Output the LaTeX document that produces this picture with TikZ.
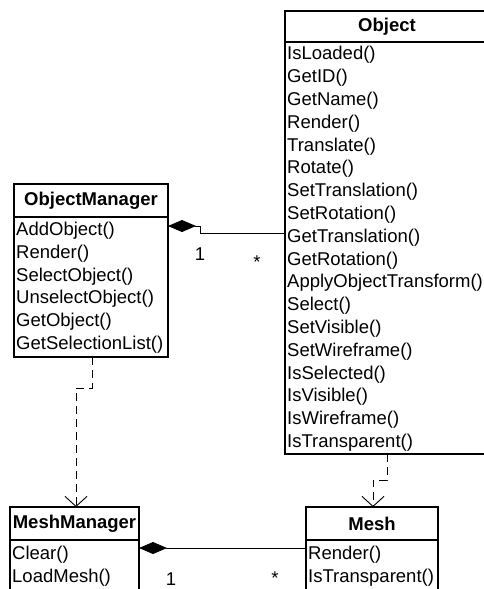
\documentclass[tikz,border=0pt]{standalone}
\usepackage{fontspec}
\setmainfont{Liberation Sans}
\usetikzlibrary{arrows.meta}
\begin{document}
\begin{tikzpicture}[x=1pt,y=-1pt,
  classbox/.style={draw, line width=1.3pt, anchor=north west, inner sep=0pt, outer sep=0pt},
  sep/.style={line width=1.3pt},
  title/.style={font=\fontsize{18.5}{21.4}\selectfont\bfseries, inner sep=0pt},
  meth/.style={font=\fontsize{18.5}{21.4}\selectfont, anchor=base west, inner sep=0pt},
  mult/.style={font=\fontsize{18.5}{21.4}\selectfont, inner sep=0pt},
  comp/.style={line width=0.9pt, {Diamond[length=28pt,width=12pt]}-},
  dep/.style={line width=0.9pt, dash pattern=on 8pt off 5pt,
              -{Straight Barb[length=10pt,width=22pt,line width=0.9pt]}}]
\useasboundingbox (0,0) rectangle (484,589);
\clip (0,0) rectangle (484,589);

% class boxes
\node[classbox, minimum width=203pt, minimum height=443pt] (obj) at (285,11) {};
\node[classbox, minimum width=154pt, minimum height=173pt] (om) at (14,184) {};
\node[classbox, minimum width=129pt, minimum height=120pt] (mm) at (10,507) {};
\node[classbox, minimum width=132pt, minimum height=120pt] (mesh) at (306,507) {};

% header separators
\draw[sep] (obj.west |- 0,42) -- (obj.east |- 0,42);
\draw[sep] (om.west |- 0,217) -- (om.east |- 0,217);
\draw[sep] (mm.west |- 0,540) -- (mm.east |- 0,540);
\draw[sep] (mesh.west |- 0,540) -- (mesh.east |- 0,540);

% titles
\node[title] (objT) at (387,26.5) {Object};
\node[title] (omT) at (91,200.5) {ObjectManager};
\node[title] (mmT) at (74.5,523.5) {MeshManager};
\node[title] (meshT) at (372,523.5) {Mesh};

% operations
\foreach \m [count=\i] in {IsLoaded(),GetID(),GetName(),Render(),Translate(),Rotate(),
  SetTranslation(),SetRotation(),GetTranslation(),GetRotation(),ApplyObjectTransform(),
  Select(),SetVisible(),SetWireframe(),IsSelected(),IsVisible(),IsWireframe(),IsTransparent()}
  \node[meth] (obj-\i) at (287,{59.8+(\i-1)*22.8}) {\m};
\foreach \m [count=\i] in {AddObject(),Render(),SelectObject(),UnselectObject(),GetObject(),GetSelectionList()}
  \node[meth] (om-\i) at (16,{235.5+(\i-1)*22.8}) {\m};
\foreach \m [count=\i] in {Clear(),LoadMesh()}
  \node[meth] (mm-\i) at (12,{559.5+(\i-1)*22.8}) {\m};
\foreach \m [count=\i] in {Render(),IsTransparent()}
  \node[meth] (mesh-\i) at (308,{559.5+(\i-1)*22.8}) {\m};

% compositions
\draw[comp] (om.east |- 0,226) -- (200,226) -- (200,233) -- (obj.west |- 0,233);
\node[mult] (m1) at (200,254) {1};
\node[mult] (m2) at (257,262) {*};
\draw[comp] (mm.east |- 0,548) -- (mesh.west |- 0,548);
\node[mult] (m3) at (171,579) {1};
\node[mult] (m4) at (275,578) {*};

% dependencies
\draw[dep] (om.south -| 92,0) -- (92,388) -- (76,388) -- (mm.north -| 76,0);
\draw[dep] (obj.south -| 387,0) -- (387,480) -- (373,480) -- (mesh.north -| 373,0);
\end{tikzpicture}
\end{document}
